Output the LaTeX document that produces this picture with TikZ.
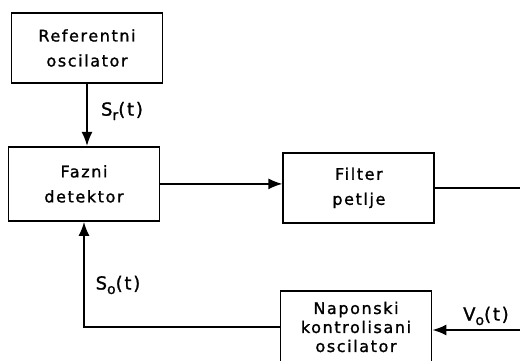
\documentclass[tikz,border=0pt]{standalone}
\usepackage{fontspec}
\setmainfont{DejaVu Sans}
\newfontfamily\blockfont{DejaVu Sans}[LetterSpace=10, FakeBold=1.3]
\usetikzlibrary{arrows.meta, positioning}
\newcommand{\lowidx}[1]{\raisebox{-0.45ex}{\fontsize{14}{14}\selectfont #1}}

\begin{document}
\begin{tikzpicture}[
    x=1pt, y=-1pt,
    block/.style={
        draw,
        line width=1.9pt,
        align=center,
        inner sep=0pt,
        minimum width=151pt,
        minimum height=70pt,
        font=\blockfont\fontsize{16}{25}\selectfont
    },
    arrow/.style={-{Latex[length=14pt,width=11pt]}, line width=1.7pt},
    wire/.style={line width=1.7pt},
    lab/.style={inner sep=0pt, font=\blockfont\fontsize{18}{18}\selectfont}
]
\useasboundingbox (0,0) rectangle (520,361);

% ------------------------
% Reference oscillator
% ------------------------
\node[block] (ref) at (87,48) {Referentni\\oscilator};

% ------------------------
% Phase detector
% ------------------------
\node[block, minimum height=74pt] (det) [below=62pt of ref, xshift=-3pt] {Fazni\\detektor};

% ------------------------
% Loop filter
% ------------------------
\node[block] (filt) [right=122pt of det, yshift=-4pt] {Filter\\petlje};

% ------------------------
% VCO (cut at the bottom edge)
% ------------------------
\node[block, minimum height=72pt, font=\blockfont\fontsize{16}{19}\selectfont] (vco) at (356,327) {Naponski\\kontrolisani\\oscilator};

% ------------------------
% Free ends at the right edge
% ------------------------
\coordinate (vin) at (520,330);
\coordinate (fout) at (filt.east -| vin);

% ------------------------
% Arrows
% ------------------------
\draw[arrow] (ref.south) -- (ref.south |- det.north);
\draw[arrow] (det.east) -- (det.east -| filt.west);
\draw[wire] (filt.east) -- (fout);
\draw[arrow] (vin) -- (vin -| vco.east);
\draw[arrow] (vco.west) -| (det.south);

% ------------------------
% Signal labels
% ------------------------
\node[lab] (sr) at (122,111) {S\lowidx{r}(t)};
\node[lab] (so) at (118,285) {S\lowidx{o}(t)};
\node[lab] (vo) at (486,316) {V\lowidx{o}(t)};

\end{tikzpicture}
\end{document}
